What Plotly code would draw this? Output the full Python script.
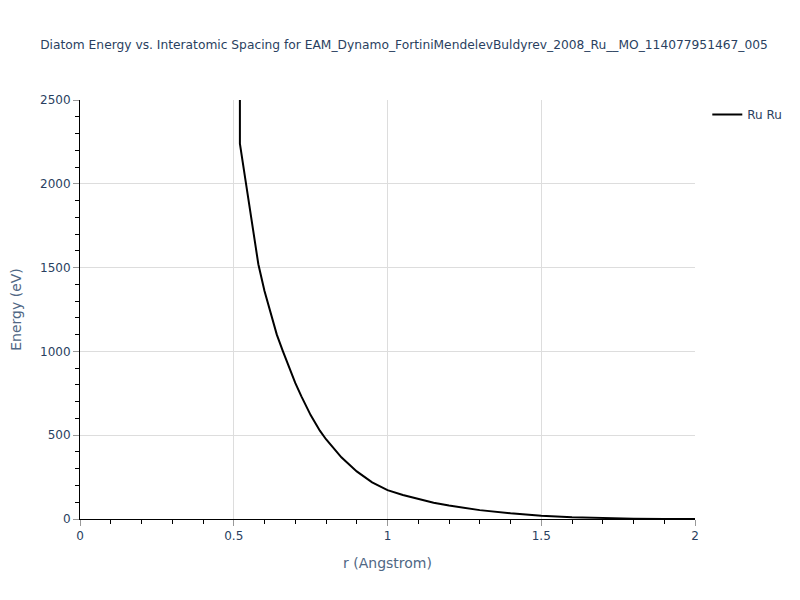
import plotly.graph_objects as go

r_values = [0.52, 0.52, 0.54, 0.56, 0.58, 0.60, 0.62, 0.64, 0.66, 0.68, 0.70, 0.72, 0.75,
            0.78, 0.80, 0.85, 0.90, 0.95, 1.00, 1.05, 1.10, 1.15, 1.20, 1.30, 1.40,
            1.50, 1.60, 1.70, 1.80, 1.90, 2.00]
energy_values = [30000, 2240, 2000, 1750, 1520, 1360, 1230, 1100, 1000, 900, 812, 732, 620,
                 527, 476, 368, 284, 219, 172, 143, 119, 97, 80, 53, 34,
                 20, 11, 5, 2, 0.5, 0]

series_name = "Ru Ru"
title_text = "Diatom Energy vs. Interatomic Spacing for EAM_Dynamo_FortiniMendelevBuldyrev_2008_Ru__MO_114077951467_005"

FONT = "DejaVu Sans, Verdana, sans-serif"

fig = go.Figure()
fig.add_trace(go.Scatter(x=r_values, y=energy_values, mode="lines", name=series_name,
                         line=dict(color="black", width=2)))

axis_common = dict(
    showline=True, linecolor="black", linewidth=1,
    showgrid=True, gridcolor="#dddddd", gridwidth=1,
    ticks="outside", tickcolor="#999999", ticklen=6,
    tickfont=dict(color="#2a3f5f", size=12, family=FONT),
    zeroline=False,
)

fig.update_layout(
    font=dict(family=FONT),
    title=dict(text=title_text, x=0.5, xanchor="center", y=0.9375, yanchor="middle",
               font=dict(size=12.25, color="#2a3f5f", family=FONT)),
    plot_bgcolor="white",
    paper_bgcolor="white",
    width=792, height=592,
    margin=dict(l=72, r=105, t=92, b=81),
    showlegend=True,
    legend=dict(font=dict(size=12, color="#2a3f5f", family=FONT), x=1.02, y=1),
    xaxis=dict(title=dict(text="r (Angstrom)", font=dict(size=14, color="#506784", family=FONT)),
               range=[0, 2], dtick=0.5,
               minor=dict(dtick=0.1, ticks="outside", ticklen=4, tickcolor="black", showgrid=False),
               **axis_common),
    yaxis=dict(title=dict(text="Energy (eV)", standoff=24,
                          font=dict(size=14, color="#506784", family=FONT)),
               automargin=False,
               range=[0, 2500], dtick=500,
               minor=dict(dtick=100, ticks="outside", ticklen=4, tickcolor="black", showgrid=False),
               **axis_common),
)

fig.write_html("out.html")
